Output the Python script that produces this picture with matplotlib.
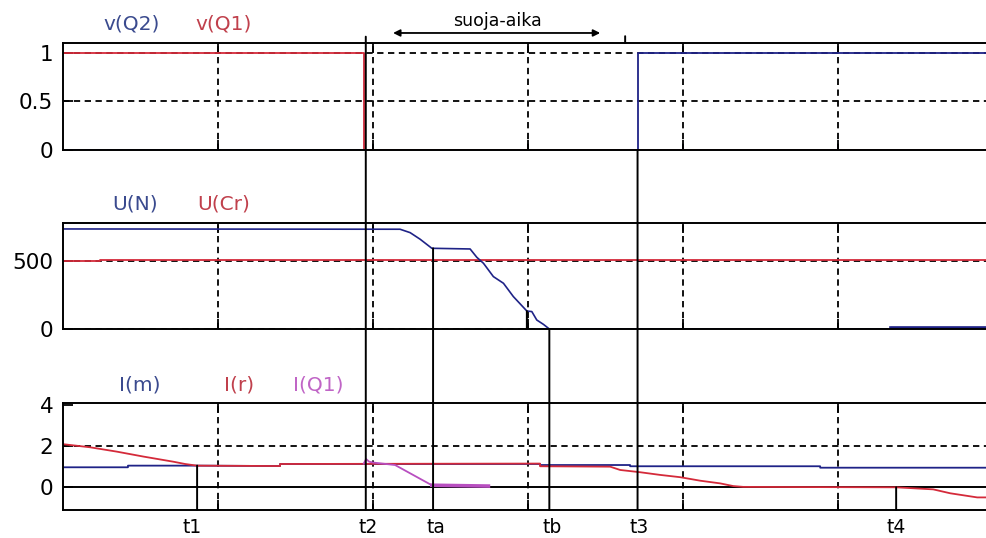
import matplotlib
matplotlib.use("Agg")
import matplotlib.pyplot as plt
from matplotlib.patches import ConnectionPatch
import matplotlib.transforms as mtransforms

# aika-akseli: yksi ruudukkoväli = 1 yksikkö
t_end = 5.96

# hetket
t1, t2, ta, tb, t3, t4 = 0.865, 1.953, 2.387, 3.137, 3.706, 5.374
time_marks = [t1, t2, ta, tb, t3, t4]
time_labels = ["t1", "t2", "ta", "tb", "t3", "t4"]

# kytkinohjaukset
vq1_t = [0, 1.942, 1.942, t_end]
vq1_v = [1, 1, 0, 0]
vq2_t = [0, 3.706, 3.706, t_end]
vq2_v = [0, 0, 1, 1]

# jännitteet
un_t = [0, 2.174, 2.239, 2.303, 2.379, 2.626, 2.669, 2.712, 2.776, 2.841, 2.905,
        2.992, 3.024, 3.056, 3.099, 3.137, 5.342, 5.342, t_end]
un_v = [735, 733, 708, 660, 593, 588, 527, 483, 385, 336, 238,
        132, 128, 66, 34, 0, 0, 10, 10]
ucr_t = [0, 0.239, 0.239, t_end]
ucr_v = [497, 497, 506, 506]

# virrat
im_t = [0, 0.419, 0.419, 0.865, 1.4, 1.4, 3.077, 3.077, 3.658, 3.658, 4.884, 4.884, t_end]
im_v = [0.97, 0.97, 1.05, 1.05, 1.03, 1.13, 1.13, 1.08, 1.08, 1.02, 1.02, 0.95, 0.95]
ir_t = [0, 0.174, 0.346, 0.518, 0.712, 0.787, 0.863, 1.4, 1.4, 3.077, 3.077, 3.529,
        3.594, 3.723, 3.852, 3.981, 4.11, 4.239, 4.323, 4.387, 5.374, 5.613, 5.723, 5.897, t_end]
ir_v = [2.09, 1.94, 1.73, 1.49, 1.24, 1.13, 1.05, 1.03, 1.13, 1.15, 1.02, 1.0,
        0.84, 0.73, 0.6, 0.49, 0.32, 0.19, 0.06, 0.02, 0.0, -0.1, -0.29, -0.49, -0.49]
iq1_t = [1.94, 1.955, 1.975, 2.0, 2.142, 2.379, 2.744]
iq1_v = [1.15, 1.37, 1.24, 1.2, 1.08, 0.1, 0.06]

BLUE = "#1f2387"
RED = "#d42a3a"
MAG = "#b84fc0"
BLUE_TXT = "#3a4a8e"
RED_TXT = "#c0404c"
MAG_TXT = "#c065c6"

plt.rcParams['font.family'] = ['DejaVu Sans']

fig = plt.figure(figsize=(9.87, 5.38), dpi=100)
W, H = 987, 538
left = 63 / W
width = 1.0 - left


def make_ax(top_px, bot_px):
    return fig.add_axes([left, 1 - bot_px / H, width, (bot_px - top_px) / H])


ax1 = make_ax(43, 150)
ax2 = make_ax(222.7, 329)
ax3 = make_ax(402.7, 510)

grid_kw = dict(color="black", linestyle=(0, (3.5, 2.5)), linewidth=1.3)

for ax in (ax1, ax2, ax3):
    ax.set_xlim(0, t_end)
    ax.set_xticks([1, 2, 3, 4, 5])
    ax.set_xticklabels([])
    ax.tick_params(direction="in", top=True, bottom=True, left=True, right=False,
                   length=7, width=1.3, labelsize=15.5, pad=7)
    ax.spines["right"].set_visible(False)
    for s in ("top", "bottom", "left"):
        ax.spines[s].set_linewidth(1.4)
    ax.grid(True, axis="x", **grid_kw)
    ax.set_axisbelow(True)

# ylärivi: ohjaukset
ax1.set_ylim(0, 1.1)
ax1.set_yticks([0, 0.5, 1])
ax1.set_yticklabels(["0", "0.5", "1"])
ax1.grid(True, axis="y", **grid_kw)
ax1.plot(vq2_t, vq2_v, color=BLUE, lw=1.3)
ax1.plot(vq1_t, vq1_v, color=RED, lw=1.3)

# keskirivi: jännitteet
ax2.set_ylim(0, 781)
ax2.set_yticks([0, 500])
ax2.grid(True, axis="y", **grid_kw)
ax2.plot(ucr_t, ucr_v, color=RED, lw=1.3)
ax2.plot(un_t, un_v, color=BLUE, lw=1.2)
ax2.plot(un_t[-2:], un_v[-2:], color=BLUE, lw=2.6)

# alarivi: virrat
ax3.set_ylim(-1.1, 4.1)
ax3.set_yticks([0, 2, 4])
ax3.axhline(2, zorder=0.5, **grid_kw)
ax3.axhline(0, color="black", lw=1.4)
ax3.plot(im_t, im_v, color=BLUE, lw=1.3)
ax3.plot(ir_t, ir_v, color=RED, lw=1.3)
ax3.plot(iq1_t, iq1_v, color=MAG, lw=1.3)
ax3.plot(iq1_t[-2:], iq1_v[-2:], color=MAG, lw=2.6)


# otsikot akselien yläpuolella
def label(ax, x, text, color, y=1.18):
    tr = mtransforms.blended_transform_factory(ax.transData, ax.transAxes)
    ax.text(x, y, text, color=color, fontsize=14.5, ha="center", va="center",
            transform=tr, clip_on=False)


label(ax1, 0.445, "v(Q2)", BLUE_TXT)
label(ax1, 1.039, "v(Q1)", RED_TXT)
label(ax2, 0.465, "U(N)", BLUE_TXT)
label(ax2, 1.039, "U(Cr)", RED_TXT)
label(ax3, 0.497, "I(m)", BLUE_TXT, 1.165)
label(ax3, 1.135, "I(r)", RED_TXT, 1.165)
label(ax3, 1.645, "I(Q1)", MAG_TXT, 1.165)


def vline(axA, xA, yA, axB, xB, yB):
    con = ConnectionPatch(xyA=(xA, yA), coordsA=axA.transData,
                          xyB=(xB, yB), coordsB=axB.transData,
                          color="black", lw=1.4)
    fig.add_artist(con)


# pystyviivat hetkien kohdalla
vline(ax1, t2, 1.165, ax3, t2, -1.1)
vline(ax1, t3, 0, ax3, t3, -1.1)
vline(ax2, ta, 593, ax3, ta, -1.1)
vline(ax2, tb, 0, ax3, tb, -1.1)
vline(ax3, t1, 1.05, ax3, t1, -1.1)
vline(ax3, t4, 0, ax3, t4, -1.1)
vline(ax2, 2.992, 132, ax2, 2.992, 0)
vline(ax1, 3.626, 1.17, ax1, 3.626, 1.1)

# suoja-aika
ax1.annotate("", xy=(2.129, 1.203), xytext=(3.465, 1.203), xycoords="data",
             arrowprops=dict(arrowstyle="<|-|>", color="black", lw=1.3,
                             mutation_scale=10, shrinkA=0, shrinkB=0),
             annotation_clip=False)
ax1.text(2.80, 1.33, "suoja-aika", fontsize=12.5, ha="center", va="center",
         clip_on=False)

# hetkien nimet
tr3 = mtransforms.blended_transform_factory(ax3.transData, ax3.transAxes)
label_x = [0.835, 1.968, 2.403, 3.155, 3.716, 5.374]
for x, s in zip(label_x, time_labels):
    ax3.text(x, -0.16, s, fontsize=13.5, ha="center", va="center", transform=tr3)

fig.savefig("out.png", dpi=100)
